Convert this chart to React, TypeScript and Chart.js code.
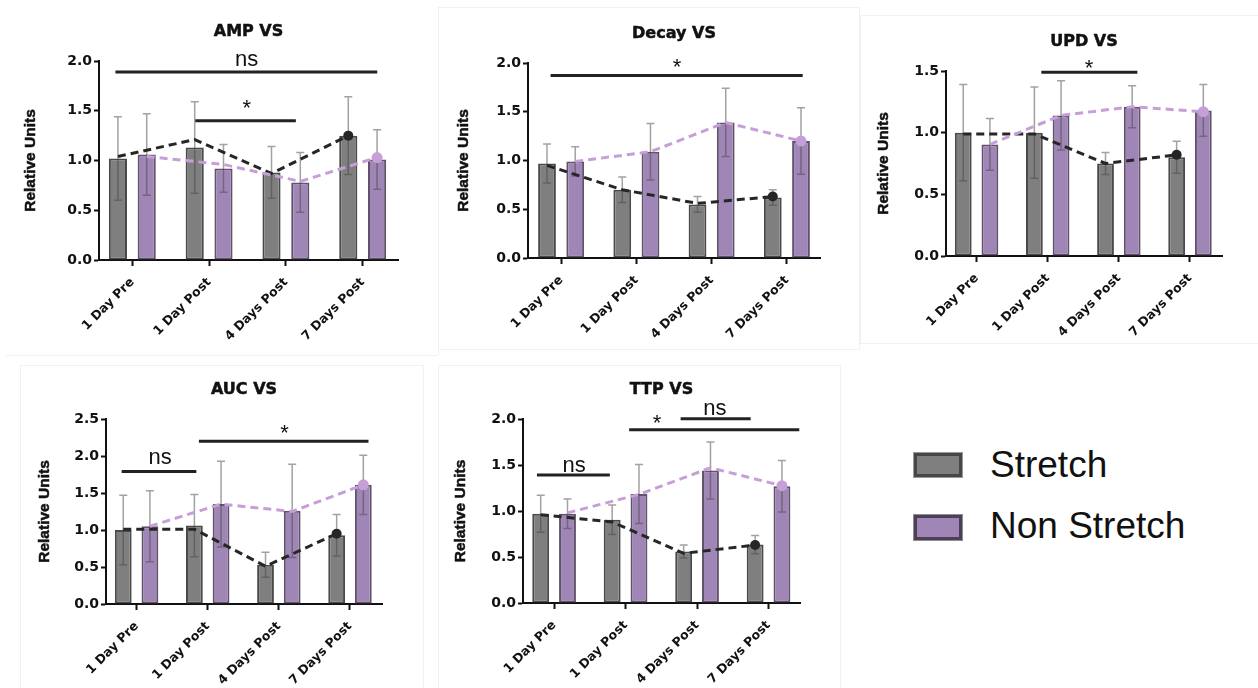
import React, { useEffect, useRef } from "react";
import { Chart, registerables } from "chart.js";

Chart.register(...registerables);

// ---------- data ----------
const categories = ["1 Day Pre", "1 Day Post", "4 Days Post", "7 Days Post"];
const seriesNames = ["Stretch", "Non Stretch"];

// AMP VS
const ampStretch = [1.02, 1.13, 0.88, 1.25];
const ampStretchErr = [0.42, 0.46, 0.26, 0.39];
const ampNon = [1.06, 0.92, 0.78, 1.01];
const ampNonErr = [0.41, 0.24, 0.3, 0.3];
const ampStretchTrend = [1.04, 1.21, 0.87, 1.25];
const ampNonTrend = [1.04, 0.96, 0.79, 1.03];

// Decay VS
const decayStretch = [0.97, 0.7, 0.55, 0.62];
const decayStretchErr = [0.2, 0.13, 0.08, 0.08];
const decayNon = [0.99, 1.09, 1.39, 1.2];
const decayNonErr = [0.15, 0.29, 0.35, 0.34];
const decayStretchTrend = [0.95, 0.7, 0.56, 0.63];
const decayNonTrend = [0.99, 1.09, 1.39, 1.2];

// UPD VS
const updStretch = [1.0, 1.0, 0.75, 0.8];
const updStretchErr = [0.39, 0.37, 0.09, 0.13];
const updNon = [0.905, 1.14, 1.21, 1.18];
const updNonErr = [0.21, 0.28, 0.17, 0.21];
const updStretchTrend = [0.99, 0.99, 0.75, 0.82];
const updNonTrend = [0.905, 1.14, 1.21, 1.17];

// AUC VS
const aucStretch = [1.0, 1.06, 0.53, 0.93];
const aucStretchErr = [0.47, 0.42, 0.17, 0.28];
const aucNon = [1.05, 1.35, 1.26, 1.61];
const aucNonErr = [0.48, 0.58, 0.63, 0.4];
const aucStretchTrend = [1.01, 1.01, 0.51, 0.95];
const aucNonTrend = [1.05, 1.35, 1.25, 1.61];

// TTP VS
const ttpStretch = [0.97, 0.905, 0.56, 0.635];
const ttpStretchErr = [0.2, 0.16, 0.07, 0.1];
const ttpNon = [0.97, 1.185, 1.44, 1.27];
const ttpNonErr = [0.16, 0.32, 0.31, 0.28];
const ttpStretchTrend = [0.96, 0.88, 0.54, 0.63];
const ttpNonTrend = [0.98, 1.18, 1.47, 1.275];

// significance brackets (x in category units, y in value units)
const ampBrackets = [
  { x1: -0.22, x2: 3.19, y: 1.89, label: "ns", lx: 1.49, ly: 2.01 },
  { x1: 0.82, x2: 2.13, y: 1.4, label: "*", lx: 1.49, ly: 1.58 },
];
const decayBrackets = [{ x1: -0.14, x2: 3.21, y: 1.873, label: "*", lx: 1.54, ly: 2.02 }];
const updBrackets = [{ x1: 0.91, x2: 2.26, y: 1.49, label: "*", lx: 1.58, ly: 1.57 }];
const aucBrackets = [
  { x1: -0.21, x2: 0.84, y: 1.79, label: "ns", lx: 0.33, ly: 1.97 },
  { x1: 0.876, x2: 3.26, y: 2.2, label: "*", lx: 2.08, ly: 2.38 },
];
const ttpBrackets = [
  { x1: -0.24, x2: 0.78, y: 1.39, label: "ns", lx: 0.28, ly: 1.49 },
  { x1: 1.05, x2: 3.43, y: 1.884, label: "*", lx: 1.44, ly: 2.02 },
  { x1: 1.77, x2: 2.75, y: 2.003, label: "ns", lx: 2.25, ly: 2.11 },
];

// ---------- styles / layout ----------
const STRETCH_FILL = "#7f7f7f";
const STRETCH_BORDER = "#4a4a4a";
const NON_FILL = "#a086b6";
const NON_BORDER = "#5f526a";
const STRETCH_LINE = "#262626";
const NON_LINE = "#c79fd8";
const FONT = '"DejaVu Sans", "Liberation Sans", Arial, sans-serif';
const ARIAL = '"Liberation Sans", Arial, sans-serif';
const BAR_SHIFT = 0.1875;

type Panel = {
  title: string;
  box: number[]; // x, y, w, h (page)
  area: number[]; // left, top, right, bottom (page)
  xRange: number[];
  yMax: number;
  yLabelGap: number;
  stretch: number[];
  stretchErr: number[];
  non: number[];
  nonErr: number[];
  stretchTrend: number[];
  nonTrend: number[];
  brackets: { x1: number; x2: number; y: number; label: string; lx: number; ly: number }[];
};

const panels: Panel[] = [
  {
    title: "AMP VS", box: [0, 0, 420, 350], area: [99, 61, 398, 260], xRange: [-0.434, 3.46], yMax: 2.0, yLabelGap: 70,
    stretch: ampStretch, stretchErr: ampStretchErr, non: ampNon, nonErr: ampNonErr,
    stretchTrend: ampStretchTrend, nonTrend: ampNonTrend, brackets: ampBrackets,
  },
  {
    title: "Decay VS", box: [437, 0, 423, 355], area: [528, 63, 820, 258], xRange: [-0.44, 3.44], yMax: 2.0, yLabelGap: 66,
    stretch: decayStretch, stretchErr: decayStretchErr, non: decayNon, nonErr: decayNonErr,
    stretchTrend: decayStretchTrend, nonTrend: decayNonTrend, brackets: decayBrackets,
  },
  {
    title: "UPD VS", box: [860, 0, 398, 350], area: [946, 71, 1222, 256], xRange: [-0.43, 3.45], yMax: 1.5, yLabelGap: 64,
    stretch: updStretch, stretchErr: updStretchErr, non: updNon, nonErr: updNonErr,
    stretchTrend: updStretchTrend, nonTrend: updNonTrend, brackets: updBrackets,
  },
  {
    title: "AUC VS", box: [0, 360, 430, 328], area: [106, 419, 382, 604], xRange: [-0.43, 3.45], yMax: 2.5, yLabelGap: 63,
    stretch: aucStretch, stretchErr: aucStretchErr, non: aucNon, nonErr: aucNonErr,
    stretchTrend: aucStretchTrend, nonTrend: aucNonTrend, brackets: aucBrackets,
  },
  {
    title: "TTP VS", box: [430, 360, 420, 328], area: [523, 419, 800, 603], xRange: [-0.435, 3.44], yMax: 2.0, yLabelGap: 64,
    stretch: ttpStretch, stretchErr: ttpStretchErr, non: ttpNon, nonErr: ttpNonErr,
    stretchTrend: ttpStretchTrend, nonTrend: ttpNonTrend, brackets: ttpBrackets,
  },
];

function heavyText(ctx: any, text: string, x: number, y: number) {
  ctx.fillText(text, x, y);
  ctx.lineWidth = 0.5;
  ctx.strokeStyle = ctx.fillStyle;
  ctx.strokeText(text, x, y);
}

function makeDecoPlugin(p: Panel) {
  return {
    id: "panelDeco",
    afterDatasetDraw(chart: any, args: any) {
      const ds = chart.data.datasets[args.index];
      if (!ds.errors) return;
      const yScale = chart.scales.y;
      const ctx = chart.ctx;
      ctx.save();
      ctx.strokeStyle = "rgba(70,70,70,0.5)";
      ctx.lineWidth = 1.5;
      args.meta.data.forEach((bar: any, j: number) => {
        const v = ds.data[j].y;
        const e = ds.errors[j];
        const x = bar.x;
        const y1 = yScale.getPixelForValue(v + e);
        const y2 = yScale.getPixelForValue(v - e);
        ctx.beginPath();
        ctx.moveTo(x, y1);
        ctx.lineTo(x, y2);
        ctx.moveTo(x - 4, y1);
        ctx.lineTo(x + 4, y1);
        ctx.moveTo(x - 4, y2);
        ctx.lineTo(x + 4, y2);
        ctx.stroke();
      });
      ctx.restore();
    },
    afterDraw(chart: any) {
      const ctx = chart.ctx;
      const ca = chart.chartArea;
      const xs = chart.scales.x;
      const ys = chart.scales.y;
      ctx.save();
      // title
      ctx.fillStyle = "#111";
      ctx.font = `bold 16px ${FONT}`;
      ctx.textAlign = "center";
      ctx.textBaseline = "alphabetic";
      heavyText(ctx, p.title, (ca.left + ca.right) / 2, ca.top - 31 + 5.8);
      // y label
      ctx.save();
      ctx.translate(ca.left - p.yLabelGap, (ca.top + ca.bottom) / 2);
      ctx.rotate(-Math.PI / 2);
      ctx.font = `bold 15.5px ${ARIAL}`;
      heavyText(ctx, "Relative Units", 0, 5.5);
      ctx.restore();
      // brackets
      ctx.strokeStyle = "#222";
      ctx.lineWidth = 3;
      ctx.font = `22px ${ARIAL}`;
      p.brackets.forEach((b) => {
        const y = ys.getPixelForValue(b.y);
        ctx.beginPath();
        ctx.moveTo(xs.getPixelForValue(b.x1), y);
        ctx.lineTo(xs.getPixelForValue(b.x2), y);
        ctx.stroke();
        const off = b.label === "*" ? 0.57 * 22 : 0.26 * 22;
        ctx.fillText(b.label, xs.getPixelForValue(b.lx), ys.getPixelForValue(b.ly) + off);
      });
      ctx.restore();
    },
  };
}

function ChartPanel({ p }: { p: Panel }) {
  const ref = useRef<HTMLCanvasElement | null>(null);
  useEffect(() => {
    if (!ref.current) return;
    const [bx, by, bw, bh] = p.box;
    const [al, at, ar, ab] = p.area;
    const chart = new Chart(ref.current, {
      type: "bar",
      data: {
        datasets: [
          {
            type: "bar",
            label: seriesNames[0],
            data: p.stretch.map((v, i) => ({ x: i, y: v })),
            backgroundColor: STRETCH_FILL,
            borderColor: STRETCH_BORDER,
            borderWidth: 2,
            borderSkipped: false,
            categoryPercentage: 0.75,
            barPercentage: 0.63,
            order: 2,
            errors: p.stretchErr,
          } as any,
          {
            type: "bar",
            label: seriesNames[1],
            data: p.non.map((v, i) => ({ x: i, y: v })),
            backgroundColor: NON_FILL,
            borderColor: NON_BORDER,
            borderWidth: 2,
            borderSkipped: false,
            categoryPercentage: 0.75,
            barPercentage: 0.63,
            order: 2,
            errors: p.nonErr,
          } as any,
          {
            type: "line",
            label: seriesNames[0] + " trend",
            data: p.stretchTrend.map((v, i) => ({ x: i - BAR_SHIFT, y: v })),
            borderColor: STRETCH_LINE,
            backgroundColor: STRETCH_LINE,
            borderWidth: 3,
            borderDash: [8, 5],
            pointRadius: p.stretchTrend.map((_, i) => (i === p.stretchTrend.length - 1 ? 5 : 0)),
            pointBorderWidth: 0,
            pointBackgroundColor: STRETCH_LINE,
            tension: 0,
            fill: false,
            clip: false,
            order: 1,
          } as any,
          {
            type: "line",
            label: seriesNames[1] + " trend",
            data: p.nonTrend.map((v, i) => ({ x: i + BAR_SHIFT, y: v })),
            borderColor: NON_LINE,
            backgroundColor: NON_LINE,
            borderWidth: 3,
            borderDash: [8, 5],
            pointRadius: p.nonTrend.map((_, i) => (i === p.nonTrend.length - 1 ? 5.5 : 0)),
            pointBorderWidth: 0,
            pointBackgroundColor: NON_LINE,
            tension: 0,
            fill: false,
            clip: false,
            order: 0,
          } as any,
        ],
      },
      options: {
        responsive: false,
        animation: false,
        events: [],
        layout: { padding: { left: 0, top: at - by, right: bx + bw - ar, bottom: 0 } },
        plugins: { legend: { display: false }, tooltip: { enabled: false }, title: { display: false } },
        scales: {
          x: {
            type: "linear",
            min: p.xRange[0],
            max: p.xRange[1],
            offset: false,
            bounds: "data",
            afterBuildTicks: (scale: any) => {
              scale.ticks = categories.map((_, i) => ({ value: i }));
            },
            afterFit: (scale: any) => {
              scale.height = by + bh - ab;
            },
            grid: {
              display: true,
              drawOnChartArea: false,
              drawTicks: true,
              tickLength: 6,
              tickWidth: 2,
              tickColor: "#111",
              offset: false,
            },
            border: { display: true, color: "#111", width: 2 },
            ticks: {
              autoSkip: false,
              maxRotation: 45,
              minRotation: 45,
              padding: 9,
              color: "#111",
              font: { family: FONT, weight: "bold", size: 12.5 },
              callback: (v: any) => categories[Math.round(Number(v))] ?? "",
            },
          },
          y: {
            type: "linear",
            min: 0,
            max: p.yMax,
            afterFit: (scale: any) => {
              scale.width = al - bx;
            },
            grid: {
              display: true,
              drawOnChartArea: false,
              drawTicks: true,
              tickLength: 5,
              tickWidth: 2,
              tickColor: "#111",
            },
            border: { display: true, color: "#111", width: 2 },
            ticks: {
              stepSize: 0.5,
              padding: 2,
              color: "#111",
              font: { family: FONT, weight: "bold", size: 14 },
              callback: (v: any) => Number(v).toFixed(1),
            },
          },
        },
      } as any,
      plugins: [makeDecoPlugin(p)],
    });
    return () => chart.destroy();
  }, [p]);
  const [bx, by, bw, bh] = p.box;
  return (
    <div style={{ position: "absolute", left: bx, top: by, width: bw, height: bh }}>
      <canvas ref={ref} width={bw} height={bh} style={{ width: bw, height: bh, display: "block" }} />
    </div>
  );
}

const frameLines = [
  // [x, y, w, h]
  [6, 355, 432, 1],
  [438, 7, 421, 1],
  [438, 7, 1, 348],
  [859, 7, 1, 342],
  [438, 349, 421, 1],
  [860, 15, 398, 1],
  [860, 15, 1, 328],
  [860, 343, 398, 1],
  [20, 365, 403, 1],
  [20, 365, 1, 323],
  [423, 365, 1, 323],
  [438, 365, 402, 1],
  [438, 365, 1, 323],
  [840, 365, 1, 323],
];

export default function App() {
  return (
    <div
      style={{
        position: "absolute",
        left: 0,
        top: 0,
        width: 1258,
        height: 688,
        background: "#fff",
        overflow: "hidden",
      }}
    >
      {frameLines.map((f, i) => (
        <div
          key={"f" + i}
          style={{ position: "absolute", left: f[0], top: f[1], width: f[2], height: f[3], background: "#f1f1f1" }}
        />
      ))}
      {panels.map((p) => (
        <ChartPanel key={p.title} p={p} />
      ))}
      {/* legend */}
      <div
        style={{
          position: "absolute",
          left: 914,
          top: 453,
          width: 48,
          height: 24,
          boxSizing: "border-box",
          background: STRETCH_FILL,
          border: "3px solid #474747",
          boxShadow: "0 0 0 1px #9a9a9a",
        }}
      />
      <div
        style={{
          position: "absolute",
          left: 990,
          top: 446,
          fontFamily: ARIAL,
          fontSize: 37,
          lineHeight: "37px",
          color: "#111",
          whiteSpace: "nowrap",
        }}
      >
        {seriesNames[0]}
      </div>
      <div
        style={{
          position: "absolute",
          left: 914,
          top: 515,
          width: 48,
          height: 25,
          boxSizing: "border-box",
          background: NON_FILL,
          border: "3px solid #4c3f58",
          boxShadow: "0 0 0 1px #8f8f8f",
        }}
      />
      <div
        style={{
          position: "absolute",
          left: 990,
          top: 507,
          fontFamily: ARIAL,
          fontSize: 37,
          lineHeight: "37px",
          color: "#111",
          whiteSpace: "nowrap",
        }}
      >
        {seriesNames[1]}
      </div>
    </div>
  );
}
